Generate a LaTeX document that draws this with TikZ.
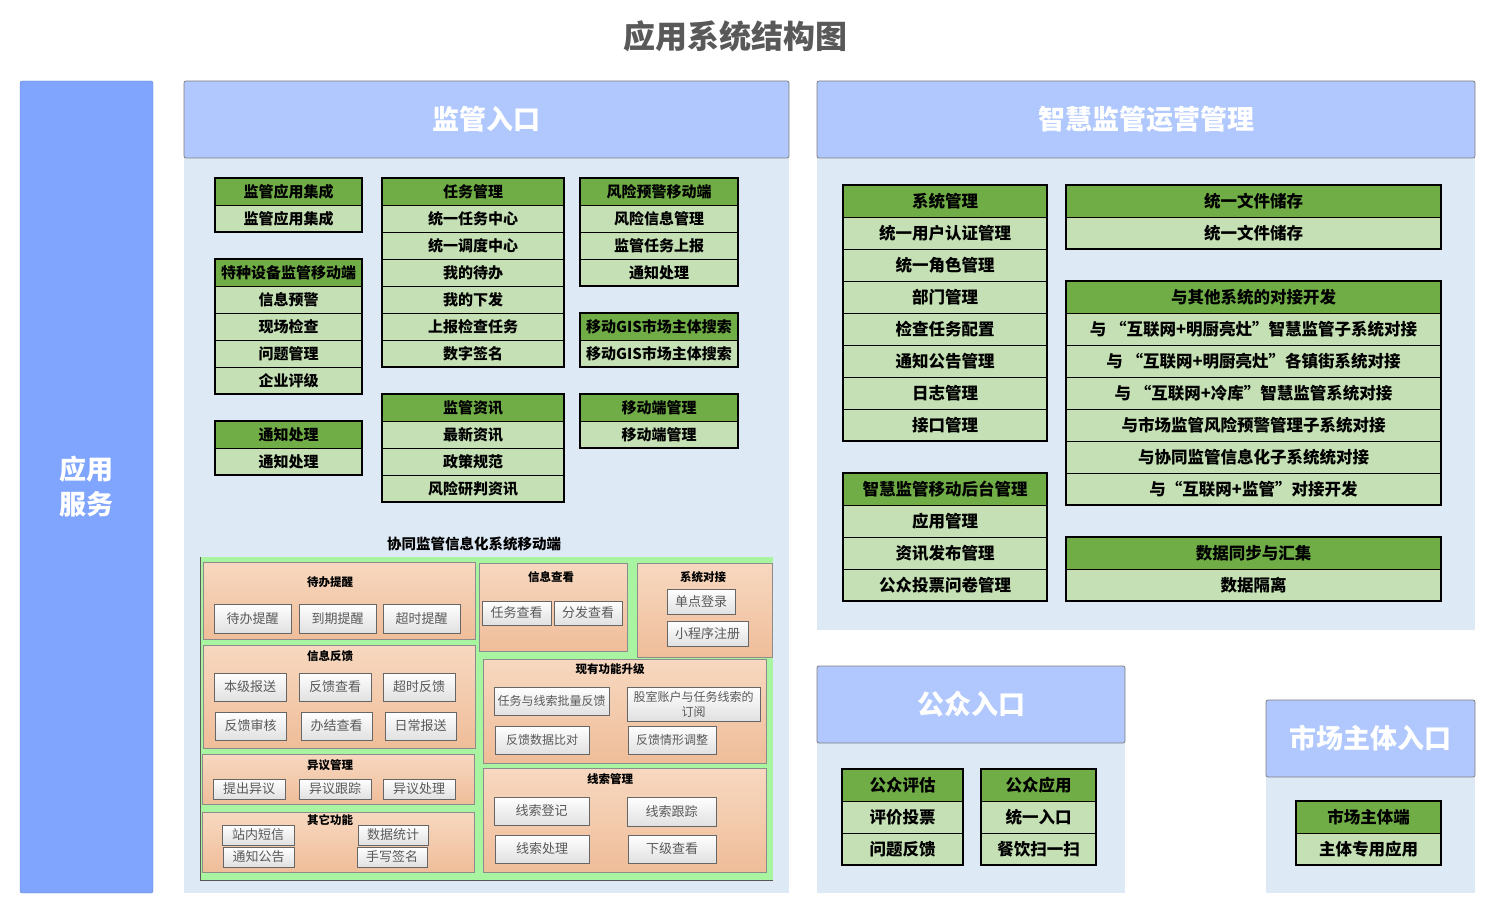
\documentclass[tikz,border=0pt]{standalone}
\usepackage{fontspec}
\setmainfont{Noto Sans CJK SC}
\usepackage{xcolor}
\definecolor{colblue}{HTML}{80A5FE}
\definecolor{headblue}{HTML}{B0C8FD}
\definecolor{bodyblue}{HTML}{DDE9F5}
\definecolor{hdgreen}{HTML}{70AD47}
\definecolor{rowgreen}{HTML}{C5E0B4}
\definecolor{titlegray}{HTML}{595959}
\definecolor{mobgreen}{HTML}{A8F4A0}
\definecolor{peachtop}{HTML}{F7D8C0}
\definecolor{peachbot}{HTML}{EFBD99}

\begin{document}
\begin{tikzpicture}[x=1pt, y=-1pt,
    every node/.style={inner sep=0pt, outer sep=0pt},
    thead/.style={draw=black, line width=0.8pt, fill=hdgreen, anchor=north west, font=\fontsize{15}{15}\selectfont\bfseries},
    trow/.style={thead, fill=rowgreen},
    big/.style={font=\fontsize{16.5}{16.5}\selectfont\bfseries},
    tframe/.style={draw=black, line width=2pt},
    phead/.style={draw=black!50, line width=0.8pt, fill=headblue, rounded corners=2pt, anchor=north west, text=white, font=\fontsize{27}{27}\selectfont\bfseries},
    pbody/.style={fill=bodyblue, anchor=north west},
    sub/.style={draw=black!45, line width=0.6pt, top color=peachtop, bottom color=peachbot, anchor=north west},
    subtitle/.style={font=\fontsize{11.5}{11.5}\selectfont\bfseries},
    btn/.style={draw=black!60, line width=0.6pt, top color=white, bottom color=black!12, anchor=north west, text=titlegray, font=\fontsize{13}{13}\selectfont},
  ]
  \useasboundingbox (0,0) rectangle (1499,917);

  % title
  \node[text=titlegray, font=\fontsize{32}{32}\selectfont\bfseries] (title) at (735,36) {应用系统结构图};

  % left column
  \node[draw=colblue!80!black, fill=colblue, rounded corners=2pt, anchor=north west, minimum width=133pt, minimum height=812pt,
        text=white, align=center, font=\fontsize{27}{35}\selectfont\bfseries] (yyfw) at (20,81) {应用\\服务};

  % panels
  \node[pbody, minimum width=605pt, minimum height=735pt] (jgrk-b) at (184,158) {};
  \node[phead, minimum width=605pt, minimum height=77pt] (jgrk) at (184,81) {监管入口};
  \node[pbody, minimum width=658pt, minimum height=472pt] (zhjg-b) at (817,158) {};
  \node[phead, minimum width=658pt, minimum height=77pt] (zhjg) at (817,81) {智慧监管运营管理};
  \node[pbody, minimum width=308pt, minimum height=150pt] (gzrk-b) at (817,743) {};
  \node[phead, minimum width=308pt, minimum height=77pt] (gzrk) at (817,666) {公众入口};
  \node[pbody, minimum width=209pt, minimum height=116pt] (scrk-b) at (1266,777) {};
  \node[phead, minimum width=209pt, minimum height=77pt] (scrk) at (1266,700) {市场主体入口};

  % ---- 监管入口 tables
  \node[thead, minimum width=147pt, minimum height=27pt] (jgyy) at (215,178) {监管应用集成};
  \foreach \r [count=\i] in {监管应用集成}
    \node[trow, minimum width=147pt, minimum height=27pt] (jgyy-\i) at (215,178+27*\i) {\r};
  \draw[tframe] (jgyy.north west) rectangle (jgyy-1.south east);

  \node[thead, minimum width=147pt, minimum height=27pt] (tzsb) at (215,259) {特种设备监管移动端};
  \foreach \r [count=\i] in {信息预警,现场检查,问题管理,企业评级}
    \node[trow, minimum width=147pt, minimum height=27pt] (tzsb-\i) at (215,259+27*\i) {\r};
  \draw[tframe] (tzsb.north west) rectangle (tzsb-4.south east);

  \node[thead, minimum width=147pt, minimum height=27pt] (tzcl) at (215,421) {通知处理};
  \foreach \r [count=\i] in {通知处理}
    \node[trow, minimum width=147pt, minimum height=27pt] (tzcl-\i) at (215,421+27*\i) {\r};
  \draw[tframe] (tzcl.north west) rectangle (tzcl-1.south east);

  \node[thead, minimum width=182pt, minimum height=27pt] (rwgl) at (382,178) {任务管理};
  \foreach \r [count=\i] in {统一任务中心,统一调度中心,我的待办,我的下发,上报检查任务,数字签名}
    \node[trow, minimum width=182pt, minimum height=27pt] (rwgl-\i) at (382,178+27*\i) {\r};
  \draw[tframe] (rwgl.north west) rectangle (rwgl-6.south east);

  \node[thead, minimum width=182pt, minimum height=27pt] (jgzx) at (382,394) {监管资讯};
  \foreach \r [count=\i] in {最新资讯,政策规范,风险研判资讯}
    \node[trow, minimum width=182pt, minimum height=27pt] (jgzx-\i) at (382,394+27*\i) {\r};
  \draw[tframe] (jgzx.north west) rectangle (jgzx-3.south east);

  \node[thead, minimum width=158pt, minimum height=27pt] (fxyj) at (580,178) {风险预警移动端};
  \foreach \r [count=\i] in {风险信息管理,监管任务上报,通知处理}
    \node[trow, minimum width=158pt, minimum height=27pt] (fxyj-\i) at (580,178+27*\i) {\r};
  \draw[tframe] (fxyj.north west) rectangle (fxyj-3.south east);

  \node[thead, minimum width=158pt, minimum height=27pt] (gis) at (580,313) {移动GIS市场主体搜索};
  \foreach \r [count=\i] in {移动GIS市场主体搜索}
    \node[trow, minimum width=158pt, minimum height=27pt] (gis-\i) at (580,313+27*\i) {\r};
  \draw[tframe] (gis.north west) rectangle (gis-1.south east);

  \node[thead, minimum width=158pt, minimum height=27pt] (yddgl) at (580,394) {移动端管理};
  \foreach \r [count=\i] in {移动端管理}
    \node[trow, minimum width=158pt, minimum height=27pt] (yddgl-\i) at (580,394+27*\i) {\r};
  \draw[tframe] (yddgl.north west) rectangle (yddgl-1.south east);

  % ---- 协同监管信息化系统移动端
  \node[font=\fontsize{14.5}{14.5}\selectfont\bfseries] (xtjg) at (474,544) {协同监管信息化系统移动端};
  \node[fill=mobgreen, anchor=north west, minimum width=573pt, minimum height=323pt] (xtbg) at (200,557) {};
  \draw[black!65, line width=0.8pt] (xtbg.north west) -- (xtbg.south west) -- (xtbg.south east);

  \node[sub, minimum width=272pt, minimum height=77pt] (dbtx) at (203,562) {};
  \node[subtitle] (dbtx-t) at (330,582) {待办提醒};
  \foreach \x/\t [count=\i] in {214/待办提醒, 299/到期提醒, 383/超时提醒}
    \node[btn, minimum width=77pt, minimum height=29pt] (dbtx-\i) at (\x,604) {\t};

  \node[sub, minimum width=272pt, minimum height=103pt] (xxfk) at (203,645) {};
  \node[subtitle] (xxfk-t) at (330,656) {信息反馈};
  \foreach \x/\t [count=\i] in {214/本级报送, 299/反馈查看, 383/超时反馈}
    \node[btn, minimum width=72pt, minimum height=28pt] (xxfk-a\i) at (\x,673) {\t};
  \foreach \x/\t [count=\i] in {215/反馈审核, 301/办结查看, 385/日常报送}
    \node[btn, minimum width=71pt, minimum height=28pt] (xxfk-b\i) at (\x,712) {\t};

  \node[sub, minimum width=272pt, minimum height=50pt] (yygl) at (202,754) {};
  \node[subtitle] (yygl-t) at (330,765) {异议管理};
  \foreach \x/\t [count=\i] in {213/提出异议, 299/异议跟踪, 383/异议处理}
    \node[btn, minimum width=72pt, minimum height=20pt] (yygl-\i) at (\x,779) {\t};

  \node[sub, minimum width=272pt, minimum height=60pt] (qtgn) at (202,812) {};
  \node[subtitle] (qtgn-t) at (330,820) {其它功能};
  \node[btn, minimum width=72pt, minimum height=20pt] (qtgn-1) at (222,825) {站内短信};
  \node[btn, minimum width=71pt, minimum height=20pt] (qtgn-2) at (223,847) {通知公告};
  \node[btn, minimum width=70pt, minimum height=20pt] (qtgn-3) at (358,825) {数据统计};
  \node[btn, minimum width=70pt, minimum height=20pt] (qtgn-4) at (357,847) {手写签名};

  \node[sub, minimum width=148pt, minimum height=88pt] (xxck) at (479,563) {};
  \node[subtitle] (xxck-t) at (551,577) {信息查看};
  \node[btn, minimum width=69pt, minimum height=24pt] (xxck-1) at (482,601) {任务查看};
  \node[btn, minimum width=68pt, minimum height=24pt] (xxck-2) at (554,601) {分发查看};

  \node[sub, minimum width=135pt, minimum height=94pt] (xtdj) at (637,563) {};
  \node[subtitle] (xtdj-t) at (703,577) {系统对接};
  \node[btn, minimum width=68pt, minimum height=25pt] (xtdj-1) at (667,589) {单点登录};
  \node[btn, minimum width=81pt, minimum height=25pt] (xtdj-2) at (667,621) {小程序注册};

  \node[sub, minimum width=283pt, minimum height=104pt] (gnsj) at (483,659) {};
  \node[subtitle] (gnsj-t) at (610,669) {现有功能升级};
  \node[btn, font=\fontsize{12}{12}\selectfont, minimum width=115pt, minimum height=28pt] (gnsj-1) at (494,687) {任务与线索批量反馈};
  \node[btn, font=\fontsize{12}{15}\selectfont, align=center, minimum width=133pt, minimum height=34pt] (gnsj-2) at (627,687) {股室账户与任务线索的\\订阅};
  \node[btn, font=\fontsize{12}{12}\selectfont, minimum width=94pt, minimum height=28pt] (gnsj-3) at (495,726) {反馈数据比对};
  \node[btn, font=\fontsize{12}{12}\selectfont, minimum width=88pt, minimum height=28pt] (gnsj-4) at (628,726) {反馈情形调整};

  \node[sub, minimum width=283pt, minimum height=104pt] (xsgl) at (483,768) {};
  \node[subtitle] (xsgl-t) at (610,779) {线索管理};
  \node[btn, minimum width=95pt, minimum height=28pt] (xsgl-1) at (494,797) {线索登记};
  \node[btn, minimum width=89pt, minimum height=29pt] (xsgl-2) at (627,797) {线索跟踪};
  \node[btn, minimum width=94pt, minimum height=28pt] (xsgl-3) at (495,835) {线索处理};
  \node[btn, minimum width=88pt, minimum height=28pt] (xsgl-4) at (628,835) {下级查看};

  % ---- 智慧监管运营管理 tables
  \node[thead, big, minimum width=204pt, minimum height=32pt] (xtgl) at (843,185) {系统管理};
  \foreach \r [count=\i] in {统一用户认证管理,统一角色管理,部门管理,检查任务配置,通知公告管理,日志管理,接口管理}
    \node[trow, big, minimum width=204pt, minimum height=32pt] (xtgl-\i) at (843,185+32*\i) {\r};
  \draw[tframe] (xtgl.north west) rectangle (xtgl-7.south east);

  \node[thead, big, minimum width=375pt, minimum height=32pt] (wjcc) at (1066,185) {统一文件储存};
  \foreach \r [count=\i] in {统一文件储存}
    \node[trow, big, minimum width=375pt, minimum height=32pt] (wjcc-\i) at (1066,185+32*\i) {\r};
  \draw[tframe] (wjcc.north west) rectangle (wjcc-1.south east);

  \node[thead, big, minimum width=375pt, minimum height=32pt] (djkf) at (1066,281) {与其他系统的对接开发};
  \foreach \r [count=\i] in {与 “互联网+明厨亮灶”智慧监管子系统对接,与 “互联网+明厨亮灶”各镇街系统对接,与 “互联网+冷库”智慧监管系统对接,与市场监管风险预警管理子系统对接,与协同监管信息化子系统统对接,与“互联网+监管”对接开发}
    \node[trow, big, minimum width=375pt, minimum height=32pt] (djkf-\i) at (1066,281+32*\i) {\r};
  \draw[tframe] (djkf.north west) rectangle (djkf-6.south east);

  \node[thead, big, minimum width=204pt, minimum height=32pt] (htgl) at (843,473) {智慧监管移动后台管理};
  \foreach \r [count=\i] in {应用管理,资讯发布管理,公众投票问卷管理}
    \node[trow, big, minimum width=204pt, minimum height=32pt] (htgl-\i) at (843,473+32*\i) {\r};
  \draw[tframe] (htgl.north west) rectangle (htgl-3.south east);

  \node[thead, big, minimum width=375pt, minimum height=32pt] (sjtb) at (1066,537) {数据同步与汇集};
  \foreach \r [count=\i] in {数据隔离}
    \node[trow, big, minimum width=375pt, minimum height=32pt] (sjtb-\i) at (1066,537+32*\i) {\r};
  \draw[tframe] (sjtb.north west) rectangle (sjtb-1.south east);

  % ---- 公众入口 / 市场主体入口 tables
  \node[thead, big, minimum width=121pt, minimum height=32pt] (gzpg) at (842,769) {公众评估};
  \foreach \r [count=\i] in {评价投票,问题反馈}
    \node[trow, big, minimum width=121pt, minimum height=32pt] (gzpg-\i) at (842,769+32*\i) {\r};
  \draw[tframe] (gzpg.north west) rectangle (gzpg-2.south east);

  \node[thead, big, minimum width=115pt, minimum height=32pt] (gzyy) at (981,769) {公众应用};
  \foreach \r [count=\i] in {统一入口,餐饮扫一扫}
    \node[trow, big, minimum width=115pt, minimum height=32pt] (gzyy-\i) at (981,769+32*\i) {\r};
  \draw[tframe] (gzyy.north west) rectangle (gzyy-2.south east);

  \node[thead, big, minimum width=145pt, minimum height=32pt] (sczt) at (1296,801) {市场主体端};
  \foreach \r [count=\i] in {主体专用应用}
    \node[trow, big, minimum width=145pt, minimum height=32pt] (sczt-\i) at (1296,801+32*\i) {\r};
  \draw[tframe] (sczt.north west) rectangle (sczt-1.south east);
\end{tikzpicture}
\end{document}
